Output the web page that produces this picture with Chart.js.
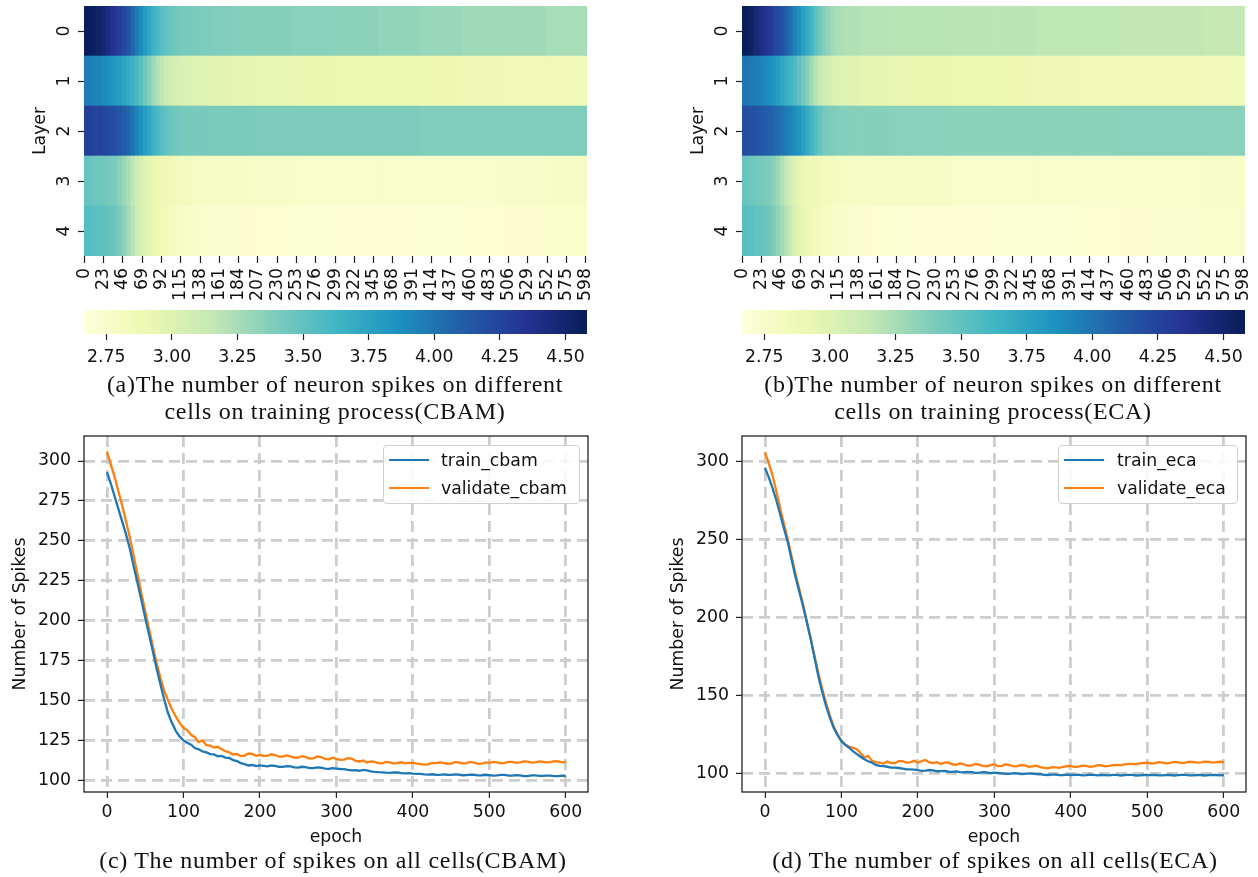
<!DOCTYPE html>
<html>
<head>
<meta charset="utf-8">
<script src="https://cdn.jsdelivr.net/npm/chart.js@4.4.1/dist/chart.umd.min.js"></script>
<style>
  html, body { margin: 0; padding: 0; background: #fff; }
  body { width: 1258px; height: 877px; position: relative; overflow: hidden; font-family: "DejaVu Sans", sans-serif; }
  .pane { position: absolute; }
  .cap { position: absolute; font-family: "Liberation Serif", serif; font-size: 24px; letter-spacing: 0.7px; line-height: 27px; color: #111; text-align: center; white-space: nowrap; }
  .legend { position: absolute; box-sizing: border-box; border: 1px solid #d0d0d0; border-radius: 4px; background: rgba(255,255,255,0.85); font-family: "DejaVu Sans", sans-serif; font-size: 17.3px; color: #111; }
  .legend .row { position: absolute; left: 0; height: 24px; line-height: 24px; white-space: nowrap; }
  .legend .sw { position: absolute; height: 2.4px; top: 11px; }
  .legend .tx { position: absolute; top: 0; }
</style>
</head>
<body>

<div class="pane" style="left:0;top:0"><canvas id="hmA" width="640" height="305"></canvas></div>
<div class="pane" style="left:658px;top:0"><canvas id="hmB" width="600" height="305"></canvas></div>
<div class="pane" style="left:0;top:300px"><canvas id="cbA" width="640" height="75"></canvas></div>
<div class="pane" style="left:658px;top:300px"><canvas id="cbB" width="600" height="75"></canvas></div>
<div class="pane" style="left:0;top:430px"><canvas id="lnC" width="640" height="447"></canvas></div>
<div class="pane" style="left:658px;top:430px"><canvas id="lnD" width="600" height="447"></canvas></div>

<div class="cap" style="left:35px;width:600px;top:371px">(a)The number of neuron spikes on different<br>cells on training process(CBAM)</div>
<div class="cap" style="left:693px;width:600px;top:371px">(b)The number of neuron spikes on different<br>cells on training process(ECA)</div>
<div class="cap" style="left:33px;width:600px;top:847px">(c) The number of spikes on all cells(CBAM)</div>
<div class="cap" style="left:695px;width:600px;top:847px">(d) The number of spikes on all cells(ECA)</div>

<div class="legend" id="legC" style="left:383px;top:445px;width:197px;height:59px"></div>
<div class="legend" id="legD" style="left:1058px;top:445px;width:180px;height:59px"></div>

<script>
// ---------------- data ----------------
const layers = ['0', '1', '2', '3', '4'];
const segStart = [0,5,10,15,20,25,30,35,40,45,50,55,60,65,70,75,80,85,90,95,100,105,110,115,120,130,140,150,175,200,250,300,350,400,450,500,550];
const segEnd   = [5,10,15,20,25,30,35,40,45,50,55,60,65,70,75,80,85,90,95,100,105,110,115,120,130,140,150,175,200,250,300,350,400,450,500,550,600];

const cbamLayer0 = [4.58,4.57,4.55,4.52,4.48,4.43,4.38,4.33,4.28,4.23,4.16,4.07,3.97,3.88,3.80,3.72,3.65,3.59,3.54,3.50,3.47,3.45,3.43,3.42,3.41,3.40,3.39,3.38,3.37,3.36,3.35,3.34,3.32,3.30,3.28,3.27,3.25];
const cbamLayer1 = [3.96,3.95,3.94,3.92,3.90,3.88,3.85,3.82,3.79,3.75,3.70,3.65,3.59,3.52,3.44,3.36,3.28,3.21,3.16,3.12,3.09,3.07,3.05,3.03,3.02,3.00,2.98,2.97,2.95,2.94,2.92,2.91,2.90,2.89,2.88,2.87,2.86];
const cbamLayer2 = [4.28,4.27,4.26,4.25,4.24,4.22,4.20,4.18,4.15,4.11,4.06,4.00,3.93,3.86,3.79,3.72,3.65,3.59,3.54,3.50,3.47,3.45,3.44,3.43,3.42,3.41,3.41,3.40,3.40,3.39,3.39,3.39,3.39,3.38,3.38,3.38,3.38];
const cbamLayer3 = [3.48,3.47,3.46,3.45,3.44,3.43,3.41,3.39,3.35,3.30,3.24,3.17,3.10,3.04,2.99,2.95,2.92,2.90,2.88,2.87,2.86,2.85,2.84,2.83,2.82,2.80,2.79,2.78,2.77,2.76,2.75,2.74,2.74,2.74,2.75,2.76,2.77];
const cbamLayer4 = [3.55,3.54,3.53,3.52,3.51,3.50,3.48,3.45,3.40,3.34,3.28,3.20,3.12,3.05,3.00,2.96,2.93,2.90,2.87,2.85,2.83,2.81,2.79,2.77,2.76,2.75,2.74,2.73,2.72,2.71,2.70,2.69,2.69,2.70,2.71,2.72,2.74];

const ecaLayer0 = [4.58,4.55,4.51,4.46,4.41,4.36,4.32,4.27,4.22,4.17,4.10,4.02,3.94,3.86,3.78,3.70,3.63,3.53,3.44,3.37,3.32,3.28,3.25,3.23,3.22,3.21,3.20,3.20,3.19,3.19,3.18,3.18,3.17,3.17,3.16,3.16,3.15];
const ecaLayer1 = [4.00,3.99,3.97,3.95,3.93,3.90,3.87,3.83,3.78,3.73,3.68,3.63,3.58,3.50,3.43,3.36,3.28,3.20,3.14,3.10,3.07,3.04,3.02,3.01,3.00,2.98,2.96,2.95,2.93,2.92,2.90,2.89,2.88,2.87,2.86,2.86,2.85];
const ecaLayer2 = [4.20,4.19,4.18,4.16,4.14,4.12,4.10,4.07,4.04,4.00,3.96,3.92,3.88,3.84,3.77,3.70,3.63,3.55,3.48,3.43,3.40,3.39,3.38,3.37,3.37,3.36,3.36,3.36,3.35,3.35,3.34,3.34,3.34,3.34,3.35,3.35,3.35];
const ecaLayer3 = [3.47,3.46,3.45,3.43,3.42,3.40,3.39,3.35,3.29,3.22,3.15,3.07,3.00,2.95,2.91,2.88,2.87,2.86,2.85,2.84,2.83,2.82,2.81,2.80,2.80,2.79,2.78,2.78,2.77,2.77,2.75,2.74,2.74,2.74,2.75,2.75,2.76];
const ecaLayer4 = [3.54,3.53,3.52,3.50,3.49,3.47,3.44,3.39,3.32,3.26,3.20,3.11,3.02,2.97,2.93,2.90,2.87,2.84,2.82,2.80,2.79,2.78,2.77,2.76,2.75,2.73,2.72,2.71,2.70,2.69,2.69,2.70,2.70,2.71,2.72,2.73,2.75];

const heatXTicks = [0,23,46,69,92,115,138,161,184,207,230,253,276,299,322,345,368,391,414,437,460,483,506,529,552,575,598];
const cbarTicks = [2.75,3.00,3.25,3.50,3.75,4.00,4.25,4.50];
const cbarMin = 2.665, cbarMax = 4.582;

const epochs = [0,5,10,15,20,25,30,35,40,45,50,55,60,65,70,75,80,85,90,95,
  100,105,110,115,120,125,130,135,140,145,150,155,160,165,170,175,180,185,190,195,
  200,205,210,215,220,225,230,235,240,245,250,255,260,265,270,275,280,285,290,295,
  300,305,310,315,320,325,330,335,340,345,350,355,360,365,370,375,380,385,390,395,
  400,405,410,415,420,425,430,435,440,445,450,455,460,465,470,475,480,485,490,495,
  500,505,510,515,520,525,530,535,540,545,550,555,560,565,570,575,580,585,590,595,600];
const trainCbam = [293,286,278,270,262,254,245,234,223.5,213,202,191.5,181,170,160,150.5,142,136,131,127.5,
  125,123.5,122.3,120.2,119.4,118.1,117.5,116.4,116.2,115.1,115.3,114.2,114,112.6,112.1,110.8,110.1,109.3,109.6,108.9,
  109.4,109.1,108.8,109.3,109,108.5,108.4,108.9,108.7,108.1,108,108.5,108.3,107.6,107.7,108.1,107.9,107.3,107.2,107.6,
  107.4,107.1,107,106.6,106.3,106.4,106,106.5,106.2,105.6,105.3,105.1,105,104.8,104.7,105,104.9,104.5,104.4,104.5,
  104.2,104.1,104,103.7,103.6,103.8,103.5,103.4,103.7,103.5,103.4,103.7,103.6,103.2,103.3,103.6,103.5,103.1,103.2,103.5,
  103.3,103,103.1,103.4,103.4,103,102.9,103.2,103.1,102.7,102.7,103.1,103.1,102.8,102.8,103,102.9,102.6,102.7,102.9,102.8];
const validateCbam = [306,298,290,281,272,262,252,240.5,229,217.5,206,195,184,173.5,164,156,150,144.5,140,136,
  133,131.5,128.5,127,124,125,122,121.8,120.5,121,119.5,118.2,117.5,116.2,116.5,115.2,115.5,116.8,116.5,115.4,
  116,115.2,115.5,116.3,115.8,114.9,114.8,115.6,115,114.3,114.2,115.1,114.5,113.6,113.8,114.9,114.6,113.5,113.2,114.2,
  113.4,112.8,113,113.9,113.6,112.2,111.8,112.4,111.2,111.9,111.5,110.8,110.7,111.6,111.2,110.5,110.9,111.3,110.6,110.9,
  111,110.4,110.2,109.8,110,110.9,110.8,111.3,111,110.4,110.5,111.4,111.2,110.6,110.8,111.5,111.1,110.3,110.4,111.2,
  111,111.5,111.2,110.7,110.9,111.6,111.5,111,111.3,111.8,111.7,111.1,111.2,111.9,111.6,111.2,111.4,112,111.8,111.3,111.5];
const trainEca = [296,290,283,275,266,257,248,237,226,216.5,207,196.5,186,174,162,152,143,135.5,129,124.5,
  120.6,118.3,116.4,114.2,112.5,110.6,109,107.7,106.8,105.4,104.7,104.6,104.2,103.7,103.6,103.4,103,102.6,102.5,102.4,
  102.1,101.6,101.7,102.1,101.9,101.3,101.4,101.6,101,100.9,101.2,100.7,100.6,100.9,100.8,100.3,100.3,100.7,100.5,100.1,
  100.4,100.2,100,99.6,99.7,100.1,100,99.5,99.6,99.9,99.8,99.5,99.4,99,98.9,99.2,99.1,98.8,98.9,99.1,
  98.9,99,99.1,98.7,98.8,99.1,99,98.7,98.9,98.8,98.7,99,99,98.6,98.8,99,99,98.6,98.7,98.9,
  98.9,98.8,99,98.7,98.7,99,98.9,98.6,98.8,99,99,98.7,98.7,98.9,98.9,98.6,98.8,99,98.9,98.7,98.9];
const validateEca = [306,299,291,281,270,260,250,239,228,218,208,197,186,175,164,154,145,137,130,125,
  121,118.5,117,116.5,115.5,113,110,111.2,108,107.2,106.8,106.2,107.5,106.6,106.5,107.8,107.8,106.9,107,108,
  106.8,107.9,108.5,107,106.5,107.1,106,106.9,106.8,105.8,105.5,106.3,105.8,104.9,105,106,105.6,104.8,104.5,105.3,
  105.7,104.6,104.8,105.8,105.3,104.4,104.6,105.3,105,104.2,104.4,104.9,104,103.5,103.2,103.9,103.8,103.5,104.2,104.6,
  104.7,104,104.3,104.9,104.8,104.2,104.5,105.2,105,104.4,104.8,105.3,105.4,105.1,105.8,106.1,106,105.7,106.4,106.6,
  106.8,106.3,106.5,107.1,106.9,106.4,106.7,107.3,107,106.5,106.8,107.4,107.2,106.8,107,107.5,107.3,106.9,107.1,107.4,107.2];

const epochTicks = [0,100,200,300,400,500,600];
const yTicksCbam = [100,125,150,175,200,225,250,275,300];
const yTicksEca = [100,150,200,250,300];

// ---------------- style helpers ----------------
Chart.defaults.font.family = "'DejaVu Sans', sans-serif";
Chart.defaults.font.size = 17.3;
Chart.defaults.color = '#111';

const YLGNBU = ['#ffffd9','#edf8b1','#c7e9b4','#7fcdbb','#41b6c4','#1d91c0','#225ea8','#253494','#081d58'];
function hexRgb(h) { return [parseInt(h.slice(1,3),16), parseInt(h.slice(3,5),16), parseInt(h.slice(5,7),16)]; }
function cmap(v) {
  let t = (v - cbarMin) / (cbarMax - cbarMin);
  t = Math.max(0, Math.min(1, t));
  const p = t * 8, i = Math.min(7, Math.floor(p)), f = p - i;
  const a = hexRgb(YLGNBU[i]), b = hexRgb(YLGNBU[i + 1]);
  const c = a.map((x, k) => Math.round(x + (b[k] - x) * f));
  return 'rgb(' + c.join(',') + ')';
}

function zeroPad(s) { s.paddingTop = 0; s.paddingBottom = 0; s.paddingLeft = 0; s.paddingRight = 0; }

const framePlugin = {
  id: 'frame',
  afterDatasetsDraw(chart) {
    const { ctx, chartArea: a } = chart;
    ctx.save();
    ctx.strokeStyle = '#222';
    ctx.lineWidth = 1.3;
    ctx.strokeRect(a.left, a.top, a.right - a.left, a.bottom - a.top);
    ctx.restore();
  }
};

const common = { responsive: false, animation: false, events: [], devicePixelRatio: 1,
  plugins: { legend: { display: false }, tooltip: { enabled: false } } };

function makeHeatmap(id, rows) {
  const el = document.getElementById(id);
  const datasets = segStart.map((s, j) => ({
    data: layers.map(() => [segStart[j], segEnd[j]]),
    backgroundColor: rows.map(r => cmap(r[j])),
    borderWidth: 0, barPercentage: 1, categoryPercentage: 1, grouped: false
  }));
  return new Chart(el, {
    type: 'bar',
    data: { labels: layers, datasets },
    options: Object.assign({}, common, {
      indexAxis: 'y',
      layout: { padding: { left: 0, top: 6, right: el.width - 587, bottom: 0 } },
      scales: {
        x: {
          type: 'linear', min: 0, max: 600,
          afterBuildTicks: s => { s.ticks = heatXTicks.map(v => ({ value: v + 0.5 })); },
          afterFit: s => { s.height = 49; zeroPad(s); },
          ticks: { autoSkip: false, minRotation: 90, maxRotation: 90, padding: 5,
                   callback: (v, i) => String(heatXTicks[i]) },
          grid: { display: true, drawOnChartArea: false, drawTicks: true, tickLength: 7, tickColor: '#222', tickWidth: 1.2 },
          border: { display: false }
        },
        y: {
          type: 'category', offset: true,
          afterFit: s => { s.width = 84; zeroPad(s); },
          ticks: { minRotation: 90, maxRotation: 90, crossAlign: 'center', padding: 8 },
          grid: { display: true, offset: false, drawOnChartArea: false, drawTicks: true, tickLength: 6, tickColor: '#222', tickWidth: 1.2 },
          border: { display: false },
          title: { display: true, text: 'Layer', padding: { top: 30, bottom: 0 } }
        }
      }
    })
  });
}

function makeColorbar(id) {
  const el = document.getElementById(id);
  return new Chart(el, {
    type: 'bar',
    data: { labels: ['cbar'], datasets: [{
      data: [[cbarMin, cbarMax]], borderWidth: 0, barPercentage: 1, categoryPercentage: 1,
      backgroundColor: (ctx) => {
        const ch = ctx.chart;
        if (!ch.chartArea) return '#fff';
        const xs = ch.scales.x;
        const g = ch.ctx.createLinearGradient(xs.getPixelForValue(cbarMin), 0, xs.getPixelForValue(cbarMax), 0);
        YLGNBU.forEach((c, i) => g.addColorStop(i / 8, c));
        return g;
      }
    }]},
    options: Object.assign({}, common, {
      indexAxis: 'y',
      layout: { padding: { left: 84, top: 10, right: el.width - 587, bottom: 0 } },
      scales: {
        x: {
          type: 'linear', min: cbarMin, max: cbarMax,
          afterBuildTicks: s => { s.ticks = cbarTicks.map(v => ({ value: v })); },
          afterFit: s => { s.height = 41; zeroPad(s); },
          ticks: { autoSkip: false, maxRotation: 0, padding: 7, callback: v => Number(v).toFixed(2) },
          grid: { display: true, drawOnChartArea: false, drawTicks: true, tickLength: 6, tickColor: '#222', tickWidth: 1.2 },
          border: { display: false }
        },
        y: { display: false }
      }
    })
  });
}

function makeLine(id, train, val, names, yMin, yMax, yTicks) {
  const el = document.getElementById(id);
  return new Chart(el, {
    type: 'line',
    data: { datasets: [
      { label: names[0], data: epochs.map((e, i) => ({ x: e, y: train[i] })), borderColor: '#1f77b4', backgroundColor: '#1f77b4', borderWidth: 2.3, pointRadius: 0, tension: 0, fill: false },
      { label: names[1], data: epochs.map((e, i) => ({ x: e, y: val[i] })), borderColor: '#ff7f0e', backgroundColor: '#ff7f0e', borderWidth: 2.3, pointRadius: 0, tension: 0, fill: false }
    ]},
    options: Object.assign({}, common, {
      layout: { padding: { left: 0, top: 6, right: el.width - 588, bottom: 29 } },
      scales: {
        x: {
          type: 'linear', min: -29.95, max: 628.95,
          afterBuildTicks: s => { s.ticks = epochTicks.map(v => ({ value: v })); },
          afterFit: s => { s.height = 56; zeroPad(s); },
          ticks: { autoSkip: false, maxRotation: 0, padding: 4, callback: v => String(v) },
          grid: { color: '#cdcdcd', lineWidth: 2.8, tickLength: 6, tickColor: '#222', tickWidth: 1.2, tickBorderDash: [] },
          border: { display: false, dash: [11, 6] },
          title: { display: true, text: 'epoch', padding: { top: 0, bottom: 0 } }
        },
        y: {
          type: 'linear', min: yMin, max: yMax,
          afterBuildTicks: s => { s.ticks = yTicks.map(v => ({ value: v })); },
          afterFit: s => { s.width = 84; zeroPad(s); },
          ticks: { autoSkip: false, padding: 7, callback: v => String(v) },
          grid: { color: '#cdcdcd', lineWidth: 2.8, tickLength: 6, tickColor: '#222', tickWidth: 1.2, tickBorderDash: [] },
          border: { display: false, dash: [11, 6] },
          title: { display: true, text: 'Number of Spikes', padding: { top: 10, bottom: 0 } }
        }
      }
    }),
    plugins: [framePlugin]
  });
}

function buildLegend(divId, chart, swLeft, swW, txLeft) {
  const div = document.getElementById(divId);
  chart.data.datasets.forEach((ds, i) => {
    const row = document.createElement('div');
    row.className = 'row';
    row.style.top = (2 + i * 27.5) + 'px';
    row.style.width = '100%';
    const sw = document.createElement('div');
    sw.className = 'sw';
    sw.style.left = swLeft + 'px'; sw.style.width = swW + 'px'; sw.style.background = ds.borderColor;
    const tx = document.createElement('div');
    tx.className = 'tx';
    tx.style.left = txLeft + 'px';
    tx.textContent = ds.label;
    row.appendChild(sw); row.appendChild(tx);
    div.appendChild(row);
  });
}

makeHeatmap('hmA', [cbamLayer0, cbamLayer1, cbamLayer2, cbamLayer3, cbamLayer4]);
makeHeatmap('hmB', [ecaLayer0, ecaLayer1, ecaLayer2, ecaLayer3, ecaLayer4]);
makeColorbar('cbA');
makeColorbar('cbB');
const chC = makeLine('lnC', trainCbam, validateCbam, ['train_cbam', 'validate_cbam'], 92.7, 315.6, yTicksCbam);
const chD = makeLine('lnD', trainEca, validateEca, ['train_eca', 'validate_eca'], 88.0, 316.4, yTicksEca);
buildLegend('legC', chC, 5, 40, 57);
buildLegend('legD', chD, 5, 40, 58);
</script>
</body>
</html>
